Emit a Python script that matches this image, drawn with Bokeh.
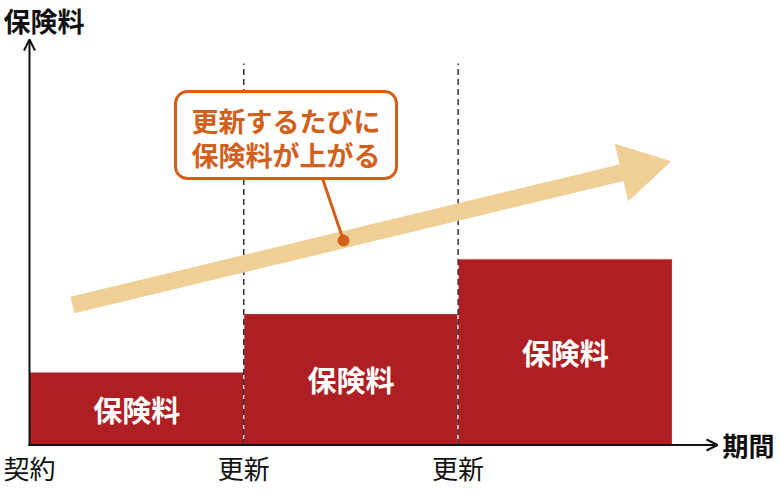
from bokeh.plotting import figure
from bokeh.models import Range1d, BoxAnnotation, Label, Arrow, OpenHead
from bokeh.core.properties import value
from bokeh.embed import file_html
from bokeh.resources import INLINE

# ---- data ----
period_start = [0, 1, 2]
period_end = [1, 2, 3]
premiums = [1.0, 1.8, 2.55]
bar_labels = ["保険料", "保険料", "保険料"]
tick_x = [0, 1, 2]
tick_labels = ["契約", "更新", "更新"]
renewal_x = [1, 2]
y_title = "保険料"
x_title = "期間"
callout_lines = ["更新するたびに", "保険料が上がる"]

FONT = "Noto Sans CJK JP"
RED = "#AE1F24"
ORANGE = "#D2601A"
TAN = "#F0D096"

# page-pixel helpers for decorative positions
X0, SX = 29.0, 214.3
Y0, SY = 444.5, 73.0
def dx(px):
    return (px - X0) / SX
def dy(py):
    return (Y0 - py) / SY

OFF = 0
W, H = 780, 494
p = figure(width=W, height=H, output_backend="svg", toolbar_location=None,
           x_range=Range1d(dx(OFF), dx(OFF + W)), y_range=Range1d(dy(OFF + H), dy(OFF)),
           min_border=0, x_axis_type=None, y_axis_type=None)
p.outline_line_color = None
p.grid.visible = False
p.background_fill_color = "white"

# bars
p.quad(left=period_start, right=period_end, bottom=0, top=premiums,
       fill_color=RED, line_color="white", line_width=1)

# dashed renewal lines
p.segment(x0=renewal_x, y0=[0] * len(renewal_x), x1=renewal_x,
          y1=[dy(63)] * len(renewal_x), line_color="#000000", line_width=1.2,
          line_dash="6 4")

# bar labels
p.text(x=[(a + b) / 2 for a, b in zip(period_start, period_end)],
       y=[v / 2 for v in premiums], text=bar_labels,
       text_align="center", text_baseline="middle", text_color="white",
       text_font=value(FONT), text_font_style="bold", text_font_size="29px")

# tick labels
p.text(x=tick_x, y=[dy(466.5)] * len(tick_x), text=tick_labels,
       text_align="center", text_baseline="middle", text_color="#111111",
       text_font=value(FONT), text_font_size="26px")

# big trend arrow
p.line(x=[dx(72), dx(622)], y=[dy(304.5), dy(172)], line_color=TAN,
       line_width=17, line_cap="butt")
p.patch(x=[dx(615), dx(670), dx(628)], y=[dy(144), dy(161), dy(200)],
        fill_color=TAN, line_color=TAN, line_width=1)

# leader line + dot
p.line(x=[dx(322), dx(343)], y=[dy(178), dy(240)], line_color=ORANGE, line_width=3)
p.scatter(x=[dx(343)], y=[dy(240)], size=11, fill_color=ORANGE, line_color=ORANGE)

# axes with arrowheads
p.add_layout(Arrow(end=OpenHead(size=11, line_width=2, line_color="#111111"),
                   x_start=0, y_start=dy(445.5), x_end=0, y_end=dy(39),
                   line_width=2, line_color="#111111"))
p.add_layout(Arrow(end=OpenHead(size=11, line_width=2, line_color="#111111"),
                   x_start=dx(28), y_start=0, x_end=dx(717), y_end=0,
                   line_width=2, line_color="#111111"))

# axis titles
p.add_layout(Label(x=dx(3), y=dy(20), text=y_title, text_align="left",
                   text_baseline="middle", text_font=FONT, text_font_style="bold",
                   text_font_size="27px", text_color="#111111"))
p.add_layout(Label(x=dx(722), y=dy(444), text=x_title, text_align="left",
                   text_baseline="middle", text_font=FONT, text_font_style="bold",
                   text_font_size="26px", text_color="#111111"))

# callout box
p.add_layout(BoxAnnotation(left=dx(175), right=dx(396), top=dy(91), bottom=dy(178),
                           fill_color="white", fill_alpha=1.0, line_color=ORANGE,
                           line_alpha=1.0, line_width=3, border_radius=12,
                           level="annotation"))
for i, t in enumerate(callout_lines):
    p.add_layout(Label(x=dx(285.5), y=dy(120 + 34 * i), text=t, text_align="center",
                       text_baseline="middle", text_font=FONT, text_font_style="bold",
                       text_font_size="27px", text_color=ORANGE))

open("out.html", "w").write(file_html(p, INLINE))
